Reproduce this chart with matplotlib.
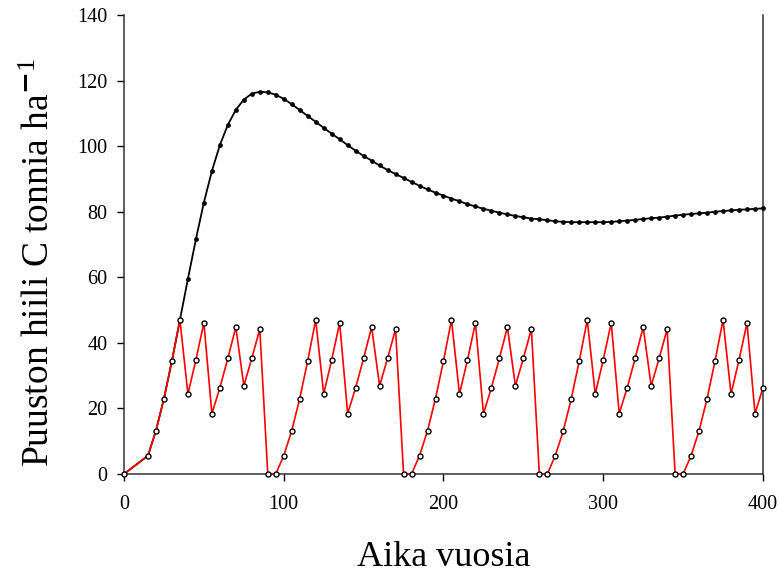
#!/usr/bin/env python3
# -*- coding: utf-8 -*-

import matplotlib
matplotlib.use("Agg")
import matplotlib.pyplot as plt

# Vuodet (0, 15, 20, ... 400)
vuodet = [0] + list(range(15, 405, 5))

# Puusto ilman hakkuita (musta kayra)
hiili_ilman = [
    0, 5.6, 13.2, 23.0, 34.5, 47.0, 59.5, 71.6, 82.8, 92.4, 100.3, 106.5,
    111.1, 114.2, 116.0, 116.6, 116.4, 115.7, 114.4, 112.8, 111.0, 109.2,
    107.4, 105.6, 103.8, 102.1, 100.3, 98.6, 97.0, 95.6, 94.1, 92.7, 91.5,
    90.3, 89.1, 87.9, 86.8, 85.8, 84.9, 84.0, 83.2, 82.3, 81.6, 80.9, 80.3,
    79.7, 79.2, 78.7, 78.3, 77.9, 77.7, 77.4, 77.1, 76.9, 76.8, 76.8, 76.8,
    76.8, 76.8, 76.9, 77.1, 77.3, 77.5, 77.8, 78.0, 78.2, 78.5, 78.8, 79.1,
    79.3, 79.5, 79.7, 80.0, 80.2, 80.4, 80.6, 80.7, 80.9, 81.0,
]

# Puusto hakkuiden kanssa (punainen kayra)
hiili_hakkuu = [
    0, 5.6, 13.2, 23.0, 34.5, 47.0, 24.4, 34.8, 46.1, 18.4, 26.3, 35.3,
    44.8, 26.9, 35.3, 44.2,
    0, 0, 5.6, 13.2, 23.0, 34.5, 47.0, 24.4, 34.8, 46.1, 18.4, 26.3, 35.3,
    44.8, 26.9, 35.3, 44.2,
    0, 0, 5.6, 13.2, 23.0, 34.5, 47.0, 24.4, 34.8, 46.1, 18.4, 26.3, 35.3,
    44.8, 26.9, 35.3, 44.2,
    0, 0, 5.6, 13.2, 23.0, 34.5, 47.0, 24.4, 34.8, 46.1, 18.4, 26.3, 35.3,
    44.8, 26.9, 35.3, 44.2,
    0, 0, 5.6, 13.2, 23.0, 34.5, 47.0, 24.4, 34.8, 46.1, 18.4, 26.3,
]

x_tikit = [0, 100, 200, 300, 400]
y_tikit = [0, 20, 40, 60, 80, 100, 120, 140]

plt.rcParams["font.family"] = ["Liberation Serif", "DejaVu Serif"]
plt.rcParams["mathtext.fontset"] = "custom"
plt.rcParams["mathtext.rm"] = "Liberation Serif"
plt.rcParams["mathtext.it"] = "Liberation Serif:italic"

fig = plt.figure(figsize=(7.78, 5.73), dpi=100)
ax = fig.add_axes([0.1594, 0.1728, 0.8213, 0.801])

# Musta kayra
ax.plot(vuodet, hiili_ilman, color="black", linewidth=1.3, zorder=3,
        marker="o", markersize=2.4, markerfacecolor="black",
        markeredgecolor="black", clip_on=False)

# Punainen kayra
ax.plot(vuodet, hiili_hakkuu, color="red", linewidth=1.2, zorder=4,
        marker="o", markersize=3.6, markerfacecolor="white",
        markeredgecolor="black", markeredgewidth=1.0, clip_on=False)

ax.set_xlim(0, 400)
ax.set_ylim(0, 140)
ax.set_xticks(x_tikit)
ax.set_yticks(y_tikit)
ax.tick_params(direction="out", length=5, width=1, labelsize=14.5)
ax.tick_params(axis="y", pad=7)
ax.tick_params(axis="x", pad=10)

ax.spines["top"].set_visible(False)
for s in ["left", "bottom", "right"]:
    ax.spines[s].set_linewidth(1.1)
    ax.spines[s].set_color("#333333")

ax.set_xlabel("Aika vuosia", fontsize=26)
ax.set_ylabel(r"Puuston hiili C tonnia ha$^{\mathbf{-}1}$", fontsize=27)
ax.xaxis.set_label_coords(0.5, -0.145)
ax.yaxis.set_label_coords(-0.105, 0.46)

plt.savefig("out.png", dpi=100)
plt.close()
